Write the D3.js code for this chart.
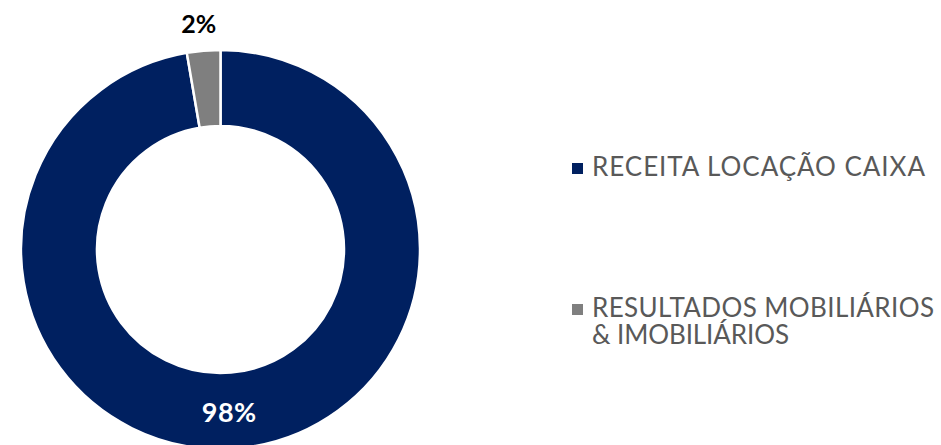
<!DOCTYPE html>
<html>
<head>
<meta charset="utf-8">
<script src="https://cdn.jsdelivr.net/npm/d3@7"></script>
<style>
  body { margin: 0; background: #fff; }
  svg { display: block; font-family: Lato, "Open Sans", sans-serif; }
</style>
</head>
<body>
<div id="chart"></div>
<script>
// data
var categories = ["RECEITA LOCAÇÃO CAIXA", "RESULTADOS MOBILIÁRIOS & IMOBILIÁRIOS"];
var values = [97.3, 2.7];
var labels = ["98%", "2%"];
var colors = ["#002060", "#7f7f7f"];

var svgWidth = 941;
var svgHeight = 445;

var svg = d3.select("#chart")
  .append("svg")
  .attr("width", svgWidth)
  .attr("height", svgHeight);

var cx = 220.5, cy = 249.5;
var outerR = 199.5, innerR = 123.5;

var pie = d3.pie().sort(null).value(function(d) { return d; });
var arcs = pie(values);

var arc = d3.arc().innerRadius(innerR).outerRadius(outerR);
var labelArc = d3.arc().innerRadius(outerR + 22).outerRadius(outerR + 22);

var g = svg.append("g").attr("transform", `translate(${cx}, ${cy})`);

g.selectAll("path").data(arcs).enter().append("path")
  .attr("d", arc)
  .attr("fill", function(d, i) { return colors[i]; })
  .attr("stroke", "#fff")
  .attr("stroke-width", 2.5);

// 98% inside the ring, 2% outside
g.append("text")
  .attr("x", arc.centroid(arcs[0])[0] - 5)
  .attr("y", arc.centroid(arcs[0])[1] + 12)
  .attr("text-anchor", "middle")
  .attr("fill", "#fff")
  .attr("font-weight", "bold")
  .attr("font-size", "27px")
  .attr("letter-spacing", "0.5px")
  .text(labels[0]);

g.append("text")
  .attr("x", labelArc.centroid(arcs[1])[0] - 3)
  .attr("y", labelArc.centroid(arcs[1])[1] + 4)
  .attr("text-anchor", "middle")
  .attr("fill", "#000")
  .attr("font-weight", "bold")
  .attr("font-size", "25px")
  .text(labels[1]);

// legend (Avenir is wider than Lato, so stretch each line to the reference width)
var legendLines = [["RECEITA LOCAÇÃO CAIXA"], ["RESULTADOS MOBILIÁRIOS", "& IMOBILIÁRIOS"]];
var legendWidths = [[333], [342, 197]];
var legendY = [176, 317];

var legend = svg.append("g").attr("transform", "translate(572, 0)");
legendLines.forEach(function(lines, i) {
  legend.append("rect")
    .attr("x", 0)
    .attr("y", legendY[i] - 13)
    .attr("width", 11)
    .attr("height", 11)
    .attr("fill", colors[i]);
  lines.forEach(function(line, j) {
    legend.append("text")
      .attr("x", 20)
      .attr("y", legendY[i] + j * 26.5)
      .attr("fill", "#595959")
      .attr("font-size", "26px")
      .attr("textLength", legendWidths[i][j])
      .attr("lengthAdjust", "spacing")
      .text(line);
  });
});
</script>
</body>
</html>
